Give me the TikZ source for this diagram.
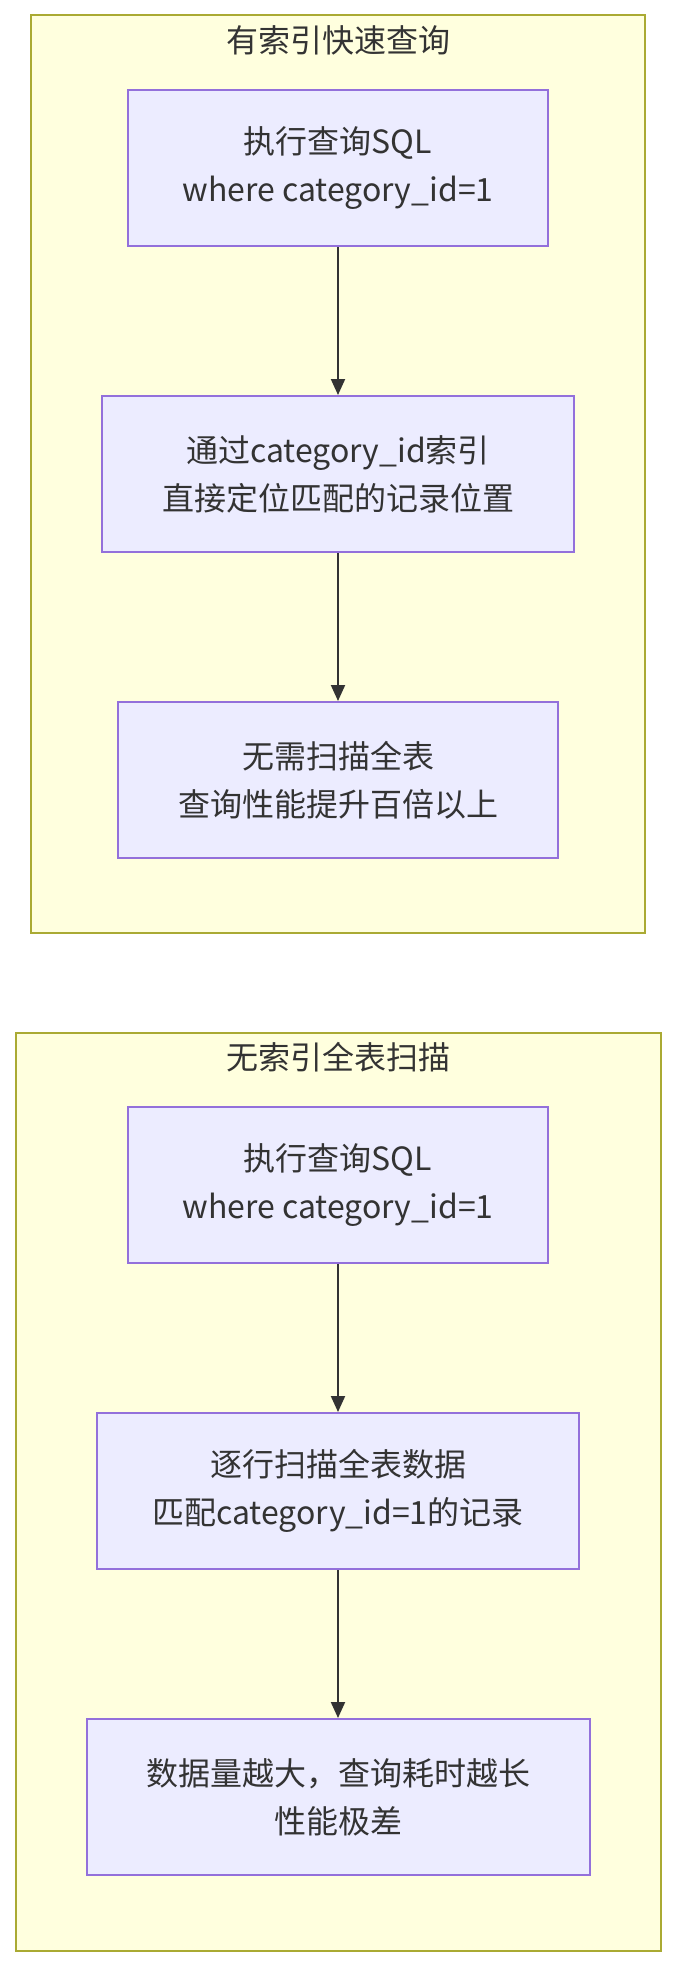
\documentclass[tikz,border=0pt]{standalone}
\usepackage{fontspec}
\setmainfont{Noto Sans CJK SC}
\usetikzlibrary{arrows.meta}
\definecolor{clfill}{HTML}{FFFFDE}
\definecolor{cldraw}{HTML}{AAAA33}
\definecolor{ndfill}{HTML}{ECECFF}
\definecolor{nddraw}{HTML}{9370DB}
\definecolor{txt}{HTML}{333333}
\tikzset{
  grp/.style={draw=cldraw,fill=clfill,line width=2pt},
  stp/.style={draw=nddraw,fill=ndfill,line width=2pt,align=center,text=txt,inner sep=0pt,minimum height=156pt,font=\fontsize{32}{48}\selectfont},
  ttl/.style={text=txt,font=\fontsize{32}{40}\selectfont},
  fl/.style={draw=txt,line width=2pt,-{Triangle[length=16pt,width=14pt]}}
}

\begin{document}
\begin{tikzpicture}[x=1pt,y=-1pt]
\useasboundingbox (0,0) rectangle (676,1968);
% with index
\draw[grp] (31,15) rectangle (645,933);
\node[ttl] (ta) at (338,40) {有索引快速查询};
\node[stp,minimum width=420pt] (a1) at (338,168) {执行查询SQL\\where category\_id=1};
\node[stp,minimum width=472pt] (a2) at (338,474) {通过category\_id索引\\直接定位匹配的记录位置};
\node[stp,minimum width=440pt] (a3) at (338,780) {无需扫描全表\\查询性能提升百倍以上};
\draw[fl] (a1) -- (a2);
\draw[fl] (a2) -- (a3);
% without index
\draw[grp] (16,1033) rectangle (661,1951);
\node[ttl] (tb) at (338,1057) {无索引全表扫描};
\node[stp,minimum width=420pt] (b1) at (338,1185) {执行查询SQL\\where category\_id=1};
\node[stp,minimum width=482pt] (b2) at (338,1491) {逐行扫描全表数据\\匹配category\_id=1的记录};
\node[stp,minimum width=503pt] (b3) at (338,1797) {数据量越大，查询耗时越长\\性能极差};
\draw[fl] (b1) -- (b2);
\draw[fl] (b2) -- (b3);
\end{tikzpicture}
\end{document}
